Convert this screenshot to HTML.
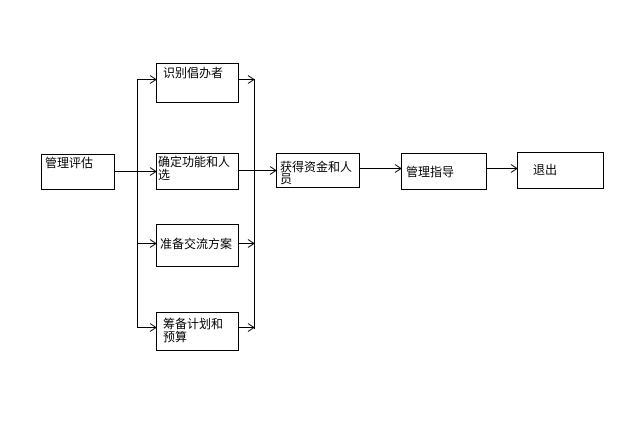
<!DOCTYPE html>
<html><head><meta charset="utf-8"><style>
html,body{margin:0;padding:0;background:#fff;}
svg text{font-family:"Liberation Sans","Noto Sans CJK SC",sans-serif;font-size:12px;fill:#000;}
</style></head><body>
<svg width="644" height="416" viewBox="0 0 644 416" xmlns="http://www.w3.org/2000/svg">
<g fill="#fff" stroke="#000" stroke-width="1">
<rect x="41.5" y="154.5" width="73" height="35"/>
<rect x="156.5" y="63.5" width="82" height="39"/>
<rect x="156.5" y="153.5" width="82" height="36"/>
<rect x="156.5" y="224.5" width="82" height="42"/>
<rect x="156.5" y="312.5" width="82" height="38"/>
<rect x="276.5" y="153.5" width="83" height="34"/>
<rect x="401.5" y="153.5" width="85" height="36"/>
<rect x="517.5" y="152.5" width="86" height="36"/>
</g>
<g fill="none" stroke="#000" stroke-width="1">
<path d="M114 171.5H156M137.5 79V327M137 79.5H156M137 243.5H156M137 327.5H156"/>
<path d="M238 79.5H254.5M238 243.5H254.5M238 327.5H254.5M254.5 79V329M238 170.5H276M359 168.5H401M486 168.5H517"/>
<path d="M150 75.5L156 79.5L150 83.5M150 167.5L156 171.5L150 175.5M150 239.5L156 243.5L150 247.5M150 323.5L156 327.5L150 331.5"/>
<path d="M248 75.5L254 79.5L248 83.5M248 239.5L254 243.5L248 247.5M248 323.5L254 327.5L248 331.5"/>
<path d="M270 166.5L276 170.5L270 174.5M395 164.5L401 168.5L395 172.5M511 164.5L517 168.5L511 172.5"/>
</g>
<text x="45" y="167">管理评估</text>
<text x="163" y="77">识别倡办者</text>
<text x="158" y="166">确定功能和人</text>
<text x="158" y="179">选</text>
<text x="160" y="248">准备交流方案</text>
<text x="163" y="328">筹备计划和</text>
<text x="163" y="341">预算</text>
<text x="280" y="171">获得资金和人</text>
<text x="280" y="183">员</text>
<text x="406" y="176">管理指导</text>
<text x="533" y="174">退出</text>
</svg>
</body></html>
